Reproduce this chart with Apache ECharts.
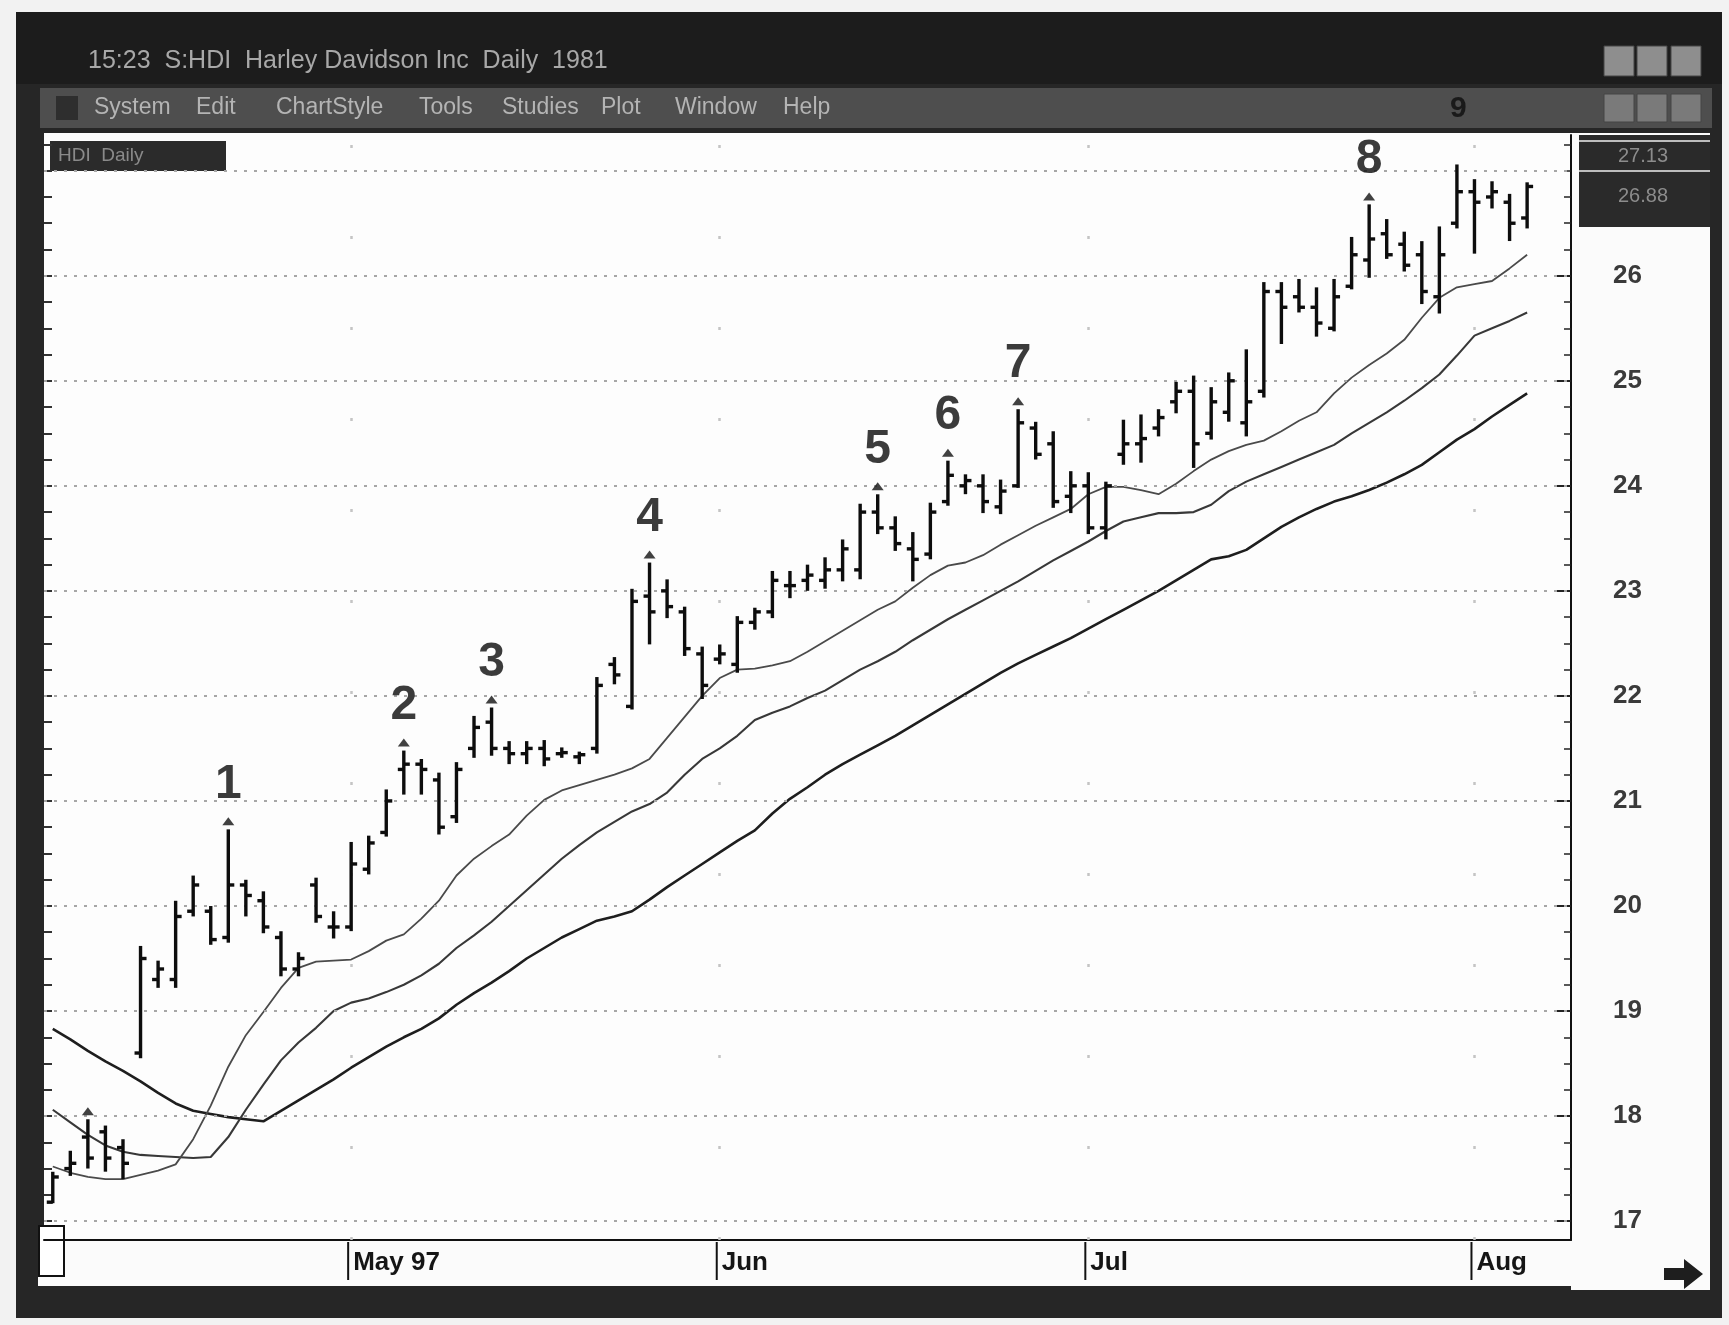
<!DOCTYPE html>
<html>
<head>
<meta charset="utf-8">
<style>
  html, body { margin: 0; padding: 0; background: #f2f2f2; }
  #chart { width: 1729px; height: 1325px; }
</style>
<script src="https://cdn.jsdelivr.net/npm/echarts@6.0.0/dist/echarts.min.js"></script>
</head>
<body>
<div id="chart"></div>
<script>
// trading days shown on the chart (last two slots are empty room on the right)
const dates = ['Apr 8','Apr 9','Apr 10','Apr 11','Apr 14','Apr 15','Apr 16','Apr 17','Apr 18','Apr 21','Apr 22','Apr 23','Apr 24','Apr 25','Apr 28','Apr 29','Apr 30',
  'May 1','May 2','May 5','May 6','May 7','May 8','May 9','May 12','May 13','May 14','May 15','May 16','May 19','May 20','May 21','May 22','May 23','May 27','May 28','May 29','May 30',
  'Jun 2','Jun 3','Jun 4','Jun 5','Jun 6','Jun 9','Jun 10','Jun 11','Jun 12','Jun 13','Jun 16','Jun 17','Jun 18','Jun 19','Jun 20','Jun 23','Jun 24','Jun 25','Jun 26','Jun 27','Jun 30',
  'Jul 1','Jul 2','Jul 3','Jul 7','Jul 8','Jul 9','Jul 10','Jul 11','Jul 14','Jul 15','Jul 16','Jul 17','Jul 18','Jul 21','Jul 22','Jul 23','Jul 24','Jul 25','Jul 28','Jul 29','Jul 30','Jul 31',
  'Aug 1','Aug 4','Aug 5','Aug 6','Aug 7','Aug 8'];

const monthStarts = [17, 38, 59, 81];
const monthNames = ['May 97', 'Jun', 'Jul', 'Aug'];

const opens = [17.18,17.50,17.80,17.85,17.70,18.60,19.30,19.30,19.95,19.95,
  19.70,20.20,20.05,19.70,19.40,20.20,19.80,19.80,20.35,20.70,
  21.30,21.35,21.20,20.85,21.50,21.75,21.50,21.45,21.50,21.45,
  21.42,21.50,22.30,21.90,22.95,23.00,22.80,22.40,22.35,22.30,
  22.70,22.80,23.05,23.10,23.10,23.20,23.20,23.75,23.60,23.40,
  23.35,23.85,24.00,24.00,23.80,24.00,24.55,24.40,23.90,24.00,
  23.60,24.30,24.40,24.55,24.80,24.90,24.50,24.70,24.60,24.90,
  25.85,25.80,25.70,25.50,25.90,26.15,26.40,26.30,26.20,25.80,
  26.50,26.80,26.75,26.70,26.55];
const highs = [17.46,17.66,17.96,17.90,17.77,19.61,19.47,20.04,20.28,19.99,
  20.72,20.24,20.13,19.75,19.55,20.26,19.94,20.60,20.66,21.10,
  21.47,21.39,21.26,21.36,21.80,21.88,21.56,21.56,21.57,21.50,
  21.46,22.17,22.36,23.01,23.26,23.10,22.84,22.46,22.48,22.75,
  22.83,23.18,23.18,23.24,23.31,23.48,23.82,23.91,23.70,23.55,
  23.83,24.23,24.10,24.10,24.05,24.72,24.60,24.51,24.13,24.12,
  24.03,24.62,24.67,24.72,24.98,25.04,24.93,25.07,25.29,25.93,
  25.93,25.96,25.88,25.96,26.36,26.67,26.53,26.41,26.32,26.46,
  27.05,26.91,26.89,26.77,26.88];
const lows = [17.18,17.44,17.51,17.48,17.41,18.56,19.23,19.23,19.91,19.64,
  19.66,19.91,19.75,19.34,19.34,19.85,19.70,19.77,20.31,20.67,
  21.07,21.07,20.69,20.80,21.42,21.44,21.36,21.36,21.34,21.42,
  21.36,21.46,22.12,21.88,22.50,22.75,22.39,21.98,22.31,22.23,
  22.64,22.75,22.94,23.01,23.03,23.10,23.12,23.55,23.39,23.10,
  23.31,23.82,23.93,23.75,23.74,23.99,24.26,23.80,23.75,23.55,
  23.50,24.21,24.23,24.48,24.70,24.18,24.45,24.62,24.48,24.85,
  25.36,25.66,25.43,25.48,25.88,25.99,26.17,26.05,25.74,25.65,
  26.46,26.22,26.65,26.34,26.46];
const closes = [17.42,17.55,17.60,17.60,17.55,19.50,19.40,19.90,20.20,19.68,
  20.20,20.10,19.80,19.40,19.50,19.90,19.80,20.40,20.60,21.00,
  21.35,21.30,20.75,21.30,21.70,21.50,21.45,21.50,21.40,21.46,
  21.44,22.10,22.20,22.90,22.80,22.85,22.45,22.10,22.40,22.70,
  22.80,23.10,23.05,23.15,23.20,23.40,23.75,23.60,23.45,23.30,
  23.75,24.10,24.05,23.85,23.95,24.60,24.30,23.85,24.00,23.60,
  24.00,24.40,24.45,24.65,24.90,24.40,24.80,25.00,24.80,25.85,
  25.70,25.70,25.55,25.80,26.20,26.35,26.20,26.10,25.85,26.20,
  26.80,26.70,26.80,26.50,26.85];

// three moving averages (slow, middle, fast)
const jaw = [18.83,18.73,18.62,18.52,18.43,18.33,18.22,18.12,18.05,18.02,
  17.99,17.97,17.95,18.05,18.15,18.25,18.35,18.46,18.56,18.66,
  18.75,18.83,18.93,19.06,19.17,19.27,19.38,19.50,19.60,19.70,
  19.78,19.86,19.90,19.95,20.06,20.18,20.29,20.40,20.51,20.62,
  20.72,20.88,21.02,21.13,21.25,21.35,21.44,21.53,21.62,21.72,
  21.82,21.92,22.02,22.12,22.22,22.31,22.39,22.47,22.55,22.64,
  22.73,22.82,22.91,23.00,23.10,23.20,23.30,23.33,23.39,23.50,
  23.61,23.70,23.78,23.85,23.90,23.96,24.03,24.11,24.20,24.32,
  24.44,24.54,24.66,24.77,24.88];
const teeth = [18.06,17.94,17.82,17.72,17.66,17.63,17.62,17.61,17.60,17.61,
  17.80,18.06,18.30,18.53,18.70,18.84,19.00,19.08,19.12,19.18,
  19.25,19.34,19.45,19.60,19.72,19.85,20.00,20.15,20.30,20.45,
  20.58,20.70,20.80,20.90,20.97,21.08,21.25,21.40,21.50,21.62,
  21.77,21.84,21.90,21.98,22.05,22.15,22.25,22.33,22.42,22.53,
  22.63,22.73,22.82,22.91,23.00,23.09,23.19,23.29,23.38,23.47,
  23.57,23.66,23.70,23.74,23.74,23.75,23.82,23.95,24.04,24.11,
  24.18,24.25,24.32,24.39,24.50,24.60,24.70,24.81,24.93,25.06,
  25.24,25.43,25.50,25.57,25.65];
const lips = [17.52,17.46,17.42,17.40,17.40,17.44,17.48,17.54,17.78,18.10,
  18.47,18.77,18.99,19.22,19.41,19.47,19.48,19.49,19.57,19.67,
  19.73,19.88,20.05,20.29,20.45,20.57,20.68,20.86,21.01,21.10,
  21.15,21.20,21.25,21.31,21.40,21.60,21.80,22.00,22.17,22.25,
  22.26,22.29,22.33,22.42,22.52,22.62,22.72,22.82,22.90,23.03,
  23.15,23.24,23.27,23.34,23.44,23.53,23.62,23.70,23.78,23.92,
  23.99,23.99,23.96,23.92,24.02,24.14,24.25,24.33,24.39,24.43,
  24.52,24.62,24.70,24.88,25.03,25.15,25.26,25.39,25.60,25.79,
  25.89,25.92,25.95,26.07,26.20];

// marked highs: arrow above the bar, number above that
const fractalBars = [2, 10, 20, 25, 34, 47, 51, 55, 75];
const fractalLabels = ['', '1', '2', '3', '4', '5', '6', '7', '8'];

const priceTicks = [17, 18, 19, 20, 21, 22, 23, 24, 25, 26];
const gridPrices = [17, 18, 19, 20, 21, 22, 23, 24, 25, 26, 27];

const yMin = 16.82, yMax = 27.34;
const minorTicks = [];
for (let v = 17; v <= 27.25; v += 0.25) minorTicks.push(+v.toFixed(2));

const chart = echarts.init(document.getElementById('chart'));

const ohlc = highs.map((h, i) => [i, opens[i], closes[i], lows[i], h]);

function renderBar(params, api) {
    const x = api.coord([api.value(0), 0])[0];
    const yo = api.coord([api.value(0), api.value(1)])[1];
    const yc = api.coord([api.value(0), api.value(2)])[1];
    const yl = api.coord([api.value(0), api.value(3)])[1];
    const yh = api.coord([api.value(0), api.value(4)])[1];
    const st = { stroke: '#0d0d0d', lineWidth: 3.4 };
    return {
        type: 'group',
        children: [
            { type: 'line', shape: { x1: x, y1: yh - 1, x2: x, y2: yl + 1 }, style: st },
            { type: 'line', shape: { x1: x - 6, y1: yo, x2: x, y2: yo }, style: st },
            { type: 'line', shape: { x1: x, y1: yc, x2: x + 6, y2: yc }, style: st }
        ]
    };
}

const gridLineData = gridPrices.map(p => ({ yAxis: p }))
    .concat(monthStarts.map(i => ({
        xAxis: dates[i],
        lineStyle: { color: '#c4c4c4', width: 2.5, type: [3, 88] }
    })));

const menuItems = ['System', 'Edit', 'ChartStyle', 'Tools', 'Studies', 'Plot', 'Window', 'Help'];
const menuX = [94, 196, 276, 419, 502, 601, 675, 783];

const graphics = [
    { type: 'rect', z: -20, shape: { x: 16, y: 12, width: 1706, height: 1306 }, style: { fill: '#262626' } },
    { type: 'rect', z: -19, shape: { x: 16, y: 12, width: 1706, height: 72 }, style: { fill: '#1c1c1c' } },
    { type: 'rect', z: -19, shape: { x: 40, y: 88, width: 1672, height: 40 }, style: { fill: '#4e4e4e' } },
    { type: 'rect', z: -19, shape: { x: 44, y: 133, width: 1527, height: 1107 }, style: { fill: '#fdfdfd' } },
    { type: 'rect', z: -19, shape: { x: 38, y: 1240, width: 1533, height: 46 }, style: { fill: '#fbfbfb' } },
    { type: 'rect', z: -19, shape: { x: 1571, y: 133, width: 139, height: 1157 }, style: { fill: '#fbfbfb' } },
    { type: 'rect', z: -18, shape: { x: 1579, y: 135, width: 131, height: 92 }, style: { fill: '#2a2a2a' } },
    { type: 'line', z: -17, shape: { x1: 1579, y1: 141, x2: 1710, y2: 141 }, style: { stroke: '#bdbdbd', lineWidth: 2 } },
    { type: 'line', z: -17, shape: { x1: 1579, y1: 171, x2: 1710, y2: 171 }, style: { stroke: '#bdbdbd', lineWidth: 2 } },
    { type: 'text', z: -16, x: 1618, y: 146, style: { text: '27.13', fill: '#8c8c8c', fontSize: 20, fontFamily: 'Liberation Sans' } },
    { type: 'text', z: -16, x: 1618, y: 186, style: { text: '26.88', fill: '#8c8c8c', fontSize: 20, fontFamily: 'Liberation Sans' } },
    { type: 'rect', z: -18, shape: { x: 50, y: 141, width: 176, height: 30 }, style: { fill: '#2b2b2b' } },
    { type: 'text', z: -16, x: 58, y: 146, style: { text: 'HDI  Daily', fill: '#8a8a8a', fontSize: 19, fontFamily: 'Liberation Sans' } },
    { type: 'rect', z: -18, shape: { x: 39, y: 1226, width: 25, height: 50 }, style: { fill: '#fff', stroke: '#111', lineWidth: 2 } },
    { type: 'text', z: -16, x: 88, y: 49, style: { text: '15:23  S:HDI  Harley Davidson Inc  Daily  1981', fill: '#a8a8a8', fontSize: 25, fontFamily: '"Liberation Sans Narrow", "Liberation Sans"' } },
    { type: 'rect', z: -18, shape: { x: 56, y: 96, width: 22, height: 24 }, style: { fill: '#2e2e2e' } },
    { type: 'text', z: -16, x: 1450, y: 94, style: { text: '9', fill: '#1a1a1a', fontSize: 30, fontWeight: 'bold', fontFamily: 'Liberation Sans' } },
    { type: 'polygon', z: -16, shape: { points: [[1664, 1268], [1684, 1268], [1684, 1259], [1703, 1274], [1684, 1289], [1684, 1280], [1664, 1280]] }, style: { fill: '#1e1e1e' } }
];
menuItems.forEach((m, i) => {
    graphics.push({ type: 'text', z: -16, x: menuX[i], y: 96, style: { text: m, fill: '#b4b4b4', fontSize: 23, fontFamily: '"Liberation Sans Narrow", "Liberation Sans"' } });
});
[1604, 1637, 1671].forEach(x => {
    graphics.push({ type: 'rect', z: -17, shape: { x: x, y: 46, width: 30, height: 30 }, style: { fill: '#8e8e8e', stroke: '#444', lineWidth: 1 } });
    graphics.push({ type: 'rect', z: -17, shape: { x: x, y: 94, width: 30, height: 28 }, style: { fill: '#7a7a7a', stroke: '#444', lineWidth: 1 } });
});

const option = {
    animation: false,
    backgroundColor: '#f2f2f2',
    graphic: { elements: graphics },
    grid: { left: 44, right: 158, top: 135, bottom: 85 },
    xAxis: {
        type: 'category',
        data: dates,
        boundaryGap: true,
        axisLine: { lineStyle: { color: '#111', width: 2 } },
        axisTick: { show: false },
        axisLabel: {
            interval: (i) => monthStarts.includes(i),
            formatter: (v, i) => monthNames[monthStarts.indexOf(i)],
            align: 'left',
            margin: 10,
            padding: [0, 0, 0, 2],
            color: '#151515',
            fontSize: 26,
            fontWeight: 'bold',
            fontFamily: 'Liberation Sans'
        },
        splitLine: { show: false }
    },
    yAxis: [{
        type: 'value', position: 'right', min: yMin, max: yMax,
        axisLine: { show: true, lineStyle: { color: '#111', width: 2 } },
        axisTick: { show: true, inside: true, length: 7, customValues: minorTicks, lineStyle: { color: '#222', width: 1.5 } },
        axisLabel: { customValues: priceTicks, margin: 42, color: '#3a3a3a', fontSize: 26, fontWeight: 'bold', fontFamily: 'Liberation Sans' },
        splitLine: { show: false }
    }, {
        type: 'value', position: 'right', min: yMin, max: yMax,
        axisLine: { show: false },
        axisTick: { show: true, inside: true, length: 14, customValues: priceTicks, lineStyle: { color: '#222', width: 2 } },
        axisLabel: { show: false },
        splitLine: { show: false }
    }, {
        type: 'value', position: 'left', min: yMin, max: yMax,
        axisLine: { show: false },
        axisTick: { show: true, inside: true, length: 8, customValues: minorTicks, lineStyle: { color: '#333', width: 2 } },
        axisLabel: { show: false },
        splitLine: { show: false }
    }],
    series: [
        {
            name: 'Jaw', type: 'line', data: jaw, symbol: 'none', z: 2,
            lineStyle: { color: '#1e1e1e', width: 2.6 },
            markLine: {
                silent: true, symbol: ['none', 'none'], label: { show: false },
                lineStyle: { color: '#a6a6a6', width: 2, type: [3, 7] },
                data: gridLineData
            }
        },
        { name: 'Teeth', type: 'line', data: teeth, symbol: 'none', z: 3, lineStyle: { color: '#383838', width: 2.1 } },
        { name: 'Lips', type: 'line', data: lips, symbol: 'none', z: 3, lineStyle: { color: '#4a4a4a', width: 1.8 } },
        {
            name: 'Price', type: 'custom', renderItem: renderBar, data: ohlc, z: 5,
            encode: { x: 0, y: [1, 2, 3, 4] }
        },
        {
            name: 'Arrows', type: 'scatter', z: 6,
            data: fractalBars.map(i => [i, highs[i]]),
            symbol: 'triangle', symbolSize: [12, 8], symbolOffset: [0, -9],
            itemStyle: { color: '#111' }
        },
        {
            name: 'Labels', type: 'scatter', z: 6,
            data: fractalBars.map(i => [i, highs[i]]),
            symbolSize: 1, itemStyle: { color: 'rgba(0,0,0,0)' },
            label: {
                show: true, position: 'inside', offset: [0, -46],
                formatter: (p) => fractalLabels[p.dataIndex],
                color: '#0a0a0a', fontSize: 48, fontWeight: 'bold', fontFamily: 'Liberation Sans'
            }
        }
    ]
};

chart.setOption(option);

// month tick lines under the date axis, placed from the axis scale
const tickLines = monthStarts.map(i => {
    const p = chart.convertToPixel({ xAxisIndex: 0, yAxisIndex: 0 }, [i, yMin]);
    return {
        type: 'line', z: 10,
        shape: { x1: p[0] - 3, y1: p[1] + 2, x2: p[0] - 3, y2: p[1] + 40 },
        style: { stroke: '#111', lineWidth: 2 }
    };
});
chart.setOption({ graphic: { elements: graphics.concat(tickLines) } });

window.addEventListener('resize', () => chart.resize());
</script>
</body>
</html>
